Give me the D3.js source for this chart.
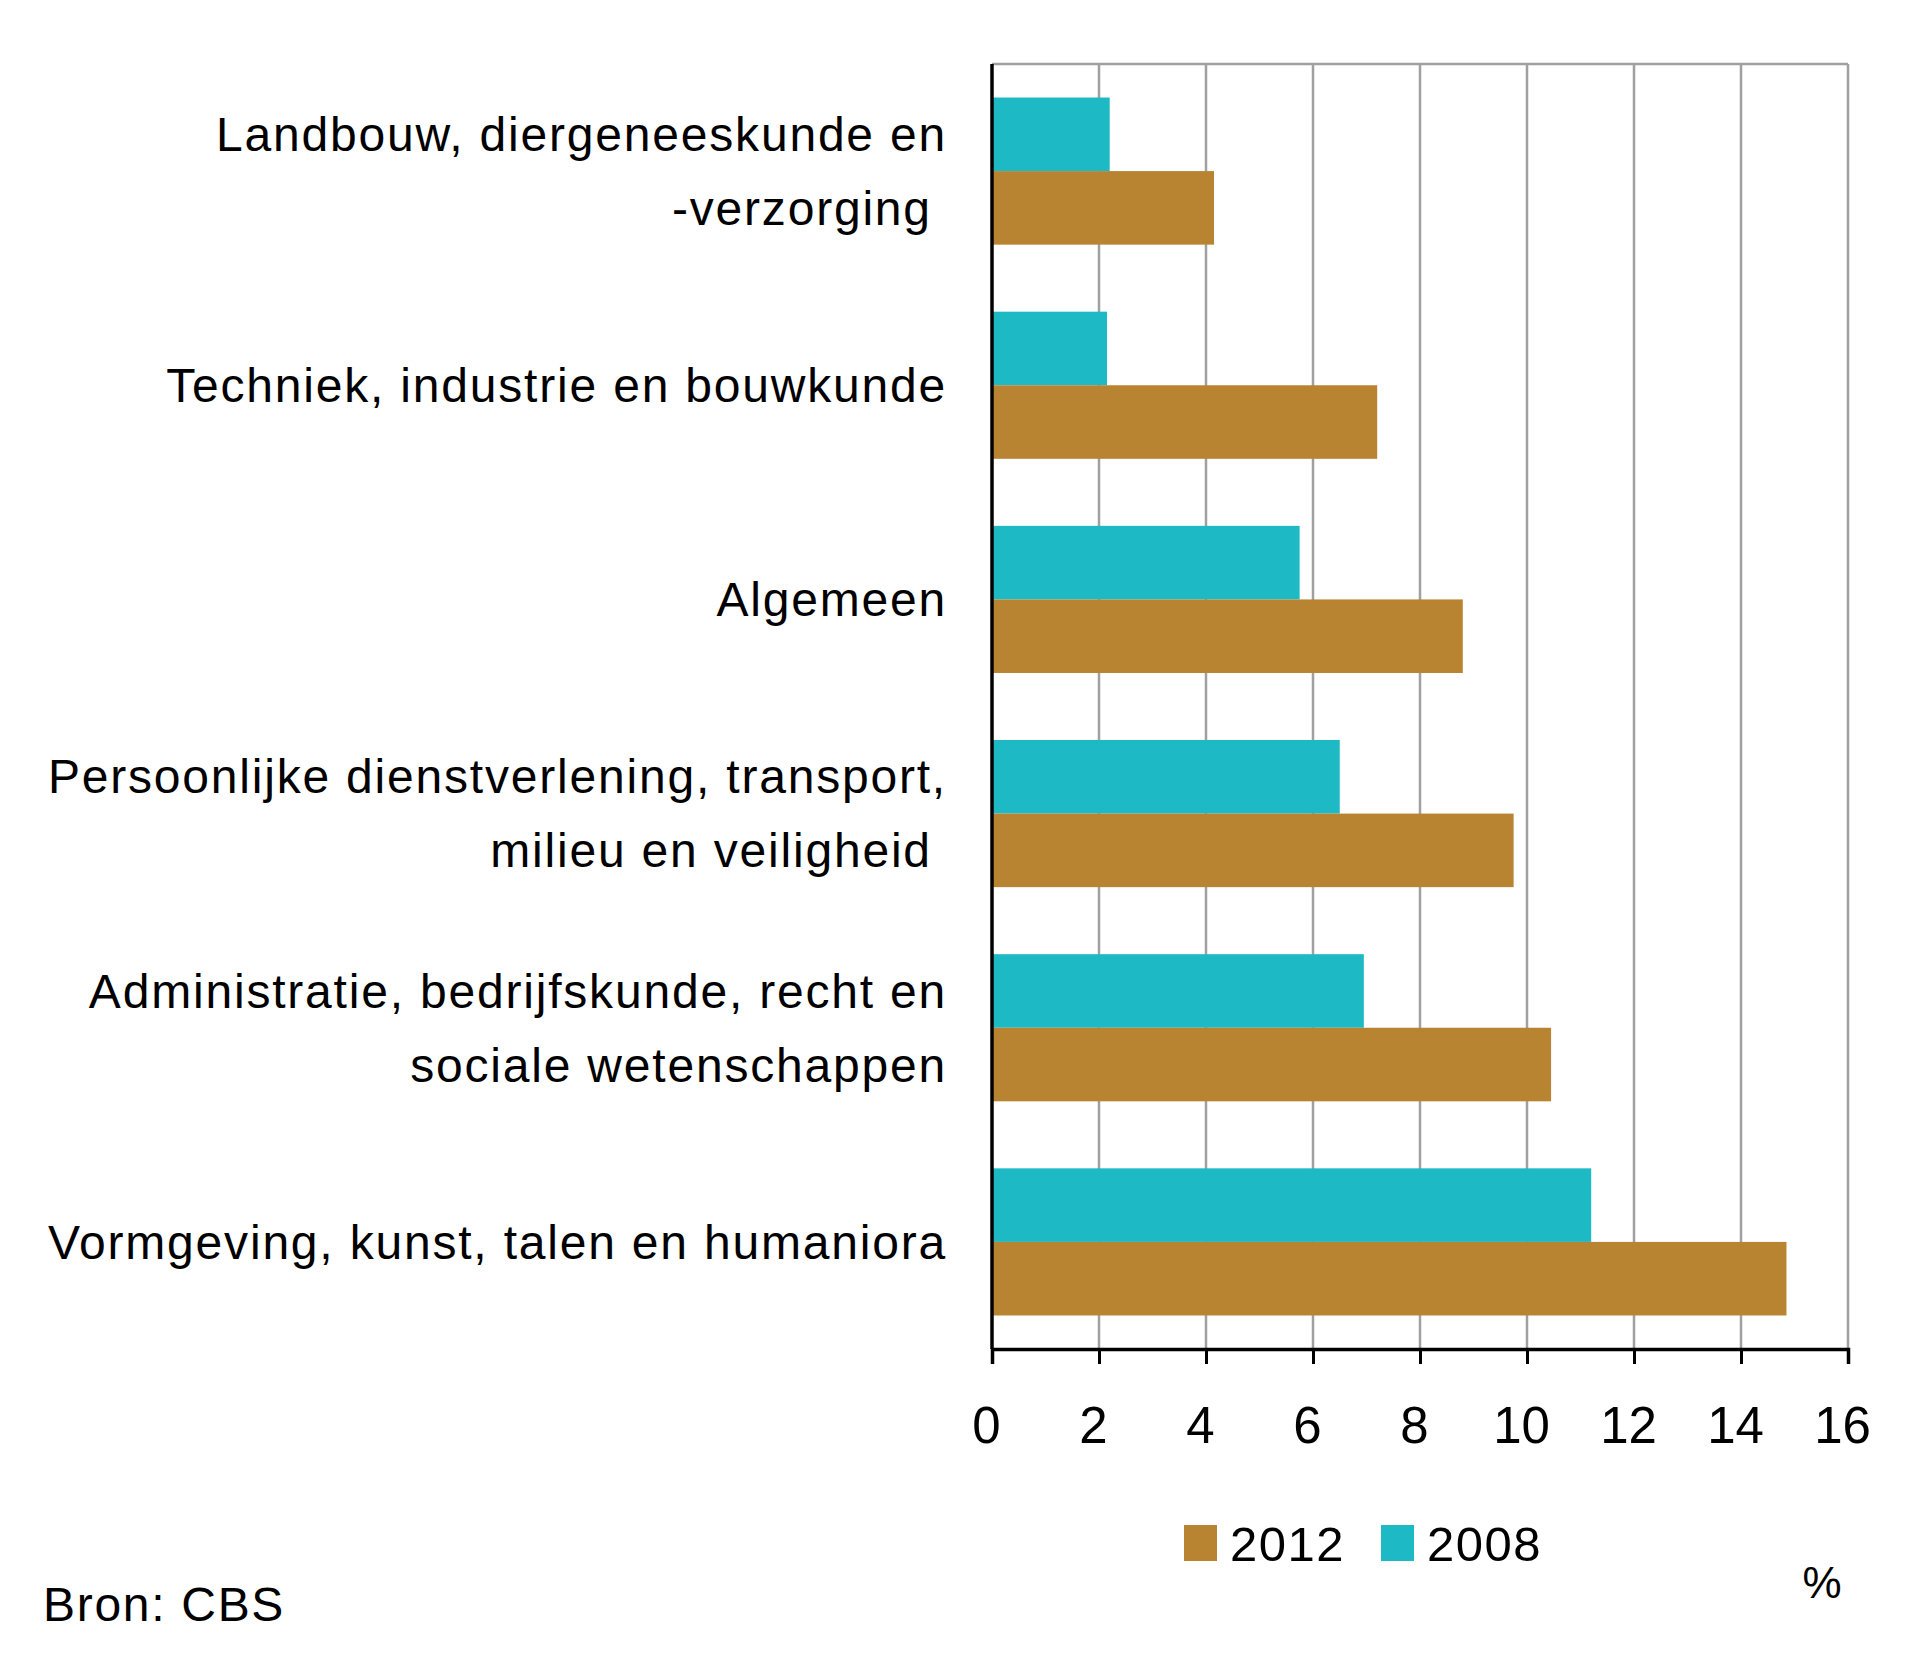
<!DOCTYPE html>
<html>
<head>
<meta charset="utf-8">
<script src="https://cdn.jsdelivr.net/npm/d3@7"></script>
<style>
body{margin:0;background:#fff;}
text{font-family:"Liberation Sans",Arial,sans-serif;fill:#000;}
</style>
</head>
<body>
<svg id="chart" width="1920" height="1663"></svg>
<script>
// data (percent)
const categories = [
	"Landbouw, diergeneeskunde en\n-verzorging ",
	"Techniek, industrie en bouwkunde",
	"Algemeen",
	"Persoonlijke dienstverlening, transport,\nmilieu en veiligheid ",
	"Administratie, bedrijfskunde, recht en\nsociale wetenschappen",
	"Vormgeving, kunst, talen en humaniora"
];
const seriesKeys = ["2008", "2012"];
const values2008 = [2.2, 2.15, 5.75, 6.5, 6.95, 11.2];
const values2012 = [4.15, 7.2, 8.8, 9.75, 10.45, 14.85];
const legendKeys = ["2012", "2008"];
const xTicks = [0, 2, 4, 6, 8, 10, 12, 14, 16];

const colors = {"2012": "#b98432", "2008": "#1db9c4"};

const svg = d3.select("#chart");
const margin = {top: 64, right: 72, bottom: 314, left: 992};
const width = +svg.attr("width") - margin.left - margin.right;
const height = +svg.attr("height") - margin.top - margin.bottom;

const g = svg.append("g").attr("transform", "translate(" + margin.left + "," + margin.top + ")");

const data = categories.map((c, i) => ({cat: c, "2008": values2008[i], "2012": values2012[i]}));

const x = d3.scaleLinear().domain([0, 16]).range([0, width]);
const y0 = d3.scaleBand().domain(categories).range([0, height]).paddingInner(0.313).paddingOuter(0.1565);
const y1 = d3.scaleBand().domain(seriesKeys).range([0, y0.bandwidth()]);

// grid lines
g.append("g")
	.selectAll("line")
	.data(xTicks.filter(t => t > 0))
	.enter().append("line")
	.attr("x1", d => x(d)).attr("x2", d => x(d))
	.attr("y1", 0).attr("y2", height)
	.attr("stroke", "#a0a0a0")
	.attr("stroke-width", 2.5);
g.append("line")
	.attr("x1", 0).attr("x2", width)
	.attr("y1", 0).attr("y2", 0)
	.attr("stroke", "#a0a0a0")
	.attr("stroke-width", 2.5);

// bars
g.append("g")
	.selectAll("g")
	.data(data)
	.enter().append("g")
	.attr("transform", d => "translate(0," + y0(d.cat) + ")")
	.selectAll("rect")
	.data(d => seriesKeys.map(k => ({key: k, value: d[k]})))
	.enter().append("rect")
	.attr("x", x(0))
	.attr("y", d => y1(d.key))
	.attr("width", d => x(d.value) - x(0))
	.attr("height", y1.bandwidth())
	.attr("fill", d => colors[d.key]);

// bottom axis
const xAxis = g.append("g")
	.attr("transform", "translate(0," + height + ")")
	.call(d3.axisBottom(x).tickValues(xTicks).tickSize(15).tickPadding(43));
xAxis.select(".domain").attr("stroke", "#000").attr("stroke-width", 3.5);
xAxis.selectAll(".tick line").attr("stroke", "#000").attr("stroke-width", 3);
xAxis.selectAll(".tick text")
	.attr("dx", -6)
	.style("font-size", "51px")
	.style("font-family", '"Liberation Sans",Arial,sans-serif')
	.attr("fill", "#000");

// left axis line
g.append("line")
	.attr("x1", 0).attr("x2", 0)
	.attr("y1", 0).attr("y2", height)
	.attr("stroke", "#000")
	.attr("stroke-width", 3.5);

// category labels
const lab = g.append("g")
	.selectAll("text")
	.data(categories)
	.enter().append("text")
	.attr("x", -45)
	.attr("y", d => y0(d) + y0.bandwidth() / 2)
	.attr("text-anchor", "end")
	.style("font-size", "48px")
	.style("letter-spacing", "1.8px")
	.style("white-space", "pre");
lab.each(function(d) {
	const lines = d.split("\n");
	const t = d3.select(this);
	lines.forEach((l, i) => {
		t.append("tspan")
			.attr("x", -45)
			.attr("dy", i === 0 ? (0.35 - (lines.length - 1) * 0.77) + "em" : "1.54em")
			.text(l);
	});
});

// legend
const legend = svg.append("g")
	.attr("transform", "translate(1184,1525)")
	.selectAll("g")
	.data(legendKeys)
	.enter().append("g")
	.attr("transform", (d, i) => "translate(" + i * 197 + ",0)");
legend.append("rect")
	.attr("width", 33)
	.attr("height", 36)
	.attr("fill", d => colors[d]);
legend.append("text")
	.attr("x", 46)
	.attr("y", 36)
	.style("font-size", "49px")
	.style("letter-spacing", "1.5px")
	.text(d => d);

svg.append("text")
	.attr("x", 1822)
	.attr("y", 1598)
	.attr("text-anchor", "middle")
	.style("font-size", "44px")
	.text("%");

svg.append("text")
	.attr("x", 43)
	.attr("y", 1621)
	.style("font-size", "48px")
	.style("letter-spacing", "1.7px")
	.text("Bron: CBS");
</script>
</body>
</html>
